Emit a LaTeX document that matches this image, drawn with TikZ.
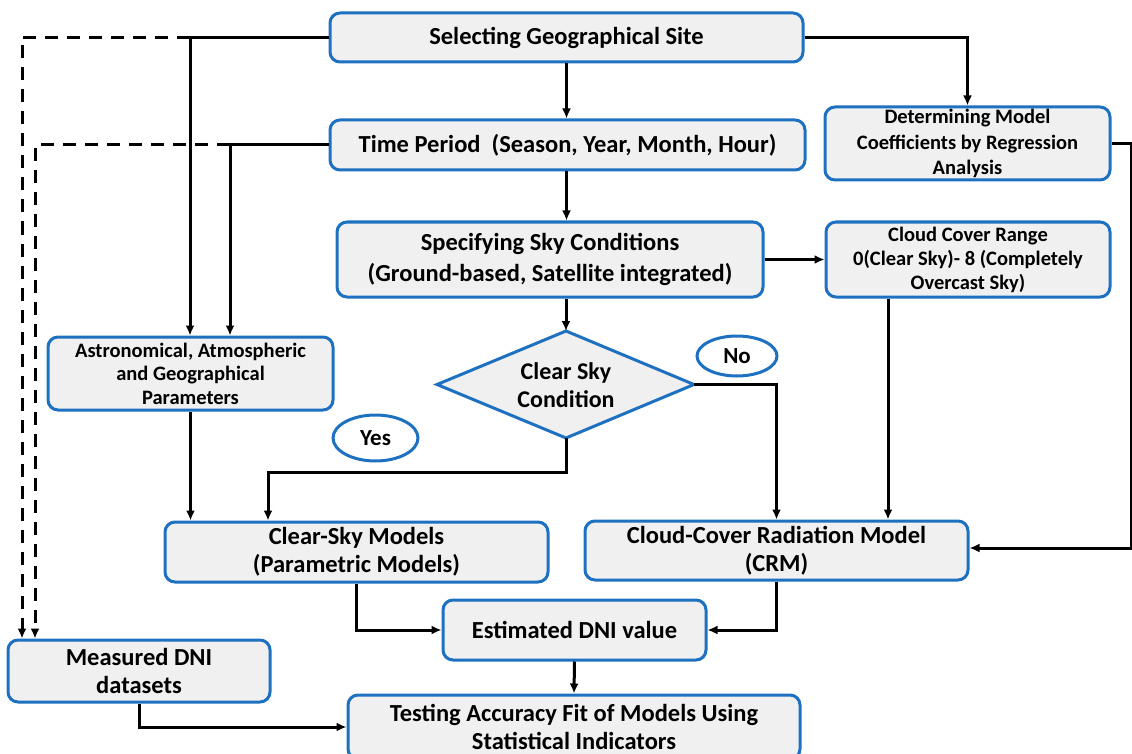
\documentclass[tikz,border=0pt]{standalone}
\usepackage{fontspec}
\setmainfont{Carlito}
\usetikzlibrary{arrows.meta,shapes.geometric}
\definecolor{bblue}{RGB}{30,112,192}
\definecolor{bfill}{RGB}{240,240,240}
\begin{document}
\begin{tikzpicture}[x=1pt,y=-1pt,
 box/.style={draw=bblue, fill=bfill, line width=3pt, rounded corners=10pt, align=center, inner sep=0pt},
 big/.style={font=\bfseries\fontsize{24.5}{28}\selectfont},
 bigw/.style={font=\bfseries\fontsize{24.5}{31}\selectfont},
 small/.style={font=\bfseries\fontsize{20.5}{24}\selectfont},
 lab/.style={draw=bblue, fill=white, ellipse, line width=3pt, font=\bfseries\fontsize{23}{26}\selectfont, inner sep=0pt},
 conn/.style={line width=3pt, -{Latex[length=10pt,width=9pt]}},
 dconn/.style={line width=3pt, dash pattern=on 13pt off 9pt, -{Latex[length=10pt,width=9pt]}},
 plain/.style={line width=3pt},
]
\useasboundingbox (0,0) rectangle (1132,754);
\clip (0,0) rectangle (1132,754);

% boxes
\node[box,big,minimum width=473pt,minimum height=49pt] (site) at (566.5,37.5) {Selecting Geographical Site};
\node[box,big,minimum width=475pt,minimum height=50pt] (time) at (567.5,145) {Time Period\ \ (Season, Year, Month, Hour)};
\node[box,small,minimum width=285pt,minimum height=73pt,font=\bfseries\fontsize{20.5}{25.5}\selectfont] (det) at (967.5,143.5) {Determining Model\\Coefficients by Regression\\Analysis};
\node[box,bigw,minimum width=426pt,minimum height=75pt] (spec) at (550,259.5) {Specifying Sky Conditions\\(Ground-based, Satellite integrated)};
\node[box,small,minimum width=284pt,minimum height=75pt] (cloud) at (968,259.5) {Cloud Cover Range\\0(Clear Sky)- 8 (Completely\\Overcast Sky)};
\node[box,small,minimum width=285pt,minimum height=73pt,font=\bfseries\fontsize{20.5}{23.5}\selectfont] (astro) at (190.5,373.5) {Astronomical, Atmospheric\\and Geographical\\Parameters};

% diamond
\coordinate (dT) at (566,331);
\coordinate (dR) at (694,384.5);
\coordinate (dB) at (566,438);
\coordinate (dL) at (437,384.5);
\draw[draw=bblue, fill=bfill, line width=3pt, line join=miter] (dT) -- (dR) -- (dB) -- (dL) -- cycle;
\node[big,align=center,font=\bfseries\fontsize{24}{28}\selectfont] (dia) at (566,385) {Clear Sky\\Condition};

\node[lab,minimum width=80pt,minimum height=40pt] (no) at (737,356) {No};
\node[lab,minimum width=85pt,minimum height=46pt] (yes) at (375.5,438) {Yes};

\node[box,big,minimum width=383pt,minimum height=60pt] (clear) at (356.5,552) {Clear-Sky Models\\(Parametric Models)};
\node[box,big,minimum width=383pt,minimum height=59pt] (crm) at (776.5,550.5) {Cloud-Cover Radiation Model\\(CRM)};
\node[box,big,minimum width=263pt,minimum height=60pt] (est) at (574.5,630) {Estimated DNI value};
\node[box,big,minimum width=262pt,minimum height=62pt] (meas) at (139,671) {Measured DNI\\datasets};
\node[box,big,minimum width=452pt,minimum height=64pt] (test) at (574,727) {Testing Accuracy Fit of Models Using\\Statistical Indicators};

% junction coordinates
\coordinate (j1) at (190,37.5);
\coordinate (d1) at (22,37.5);
\coordinate (j2) at (230,145);
\coordinate (d2) at (35,145);
\coordinate (y1) at (566,472);
\coordinate (y2) at (268,472);
\coordinate (r1) at (1131,143.5);
\coordinate (r2) at (1131,548);

% connectors
\draw[conn] (site.south) -- (site.south |- time.north);
\draw[conn] (site.east) -| (det.north);
\draw[plain] (site.west) -- (j1);
\draw[conn] (j1) -- (j1 |- astro.north);
\draw[dconn] (j1) -- (d1) -- (d1 |- meas.north);
\draw[plain] (time.west) -- (j2);
\draw[conn] (j2) -- (j2 |- astro.north);
\draw[dconn] (j2) -- (d2) -- (d2 |- meas.north);
\draw[conn] (time.south -| site.south) -- (spec.north -| site.south);
\draw[conn] (spec.east) -- (cloud.west);
\draw[conn] (spec.south -| dT) -- (dT);
\draw[conn] (dR) -| (crm.north);
\draw[conn] (dB) -- (y1) -- (y2) -- (y2 |- clear.north);
\draw[conn] (astro.south) -- (astro.south |- clear.north);
\draw[conn] (cloud.south -| 888,0) -- (crm.north -| 888,0);
\draw[conn] (det.east) -- (r1) -- (r2) -- (crm.east |- r2);
\draw[conn] (clear.south) |- (est.west);
\draw[conn] (crm.south) |- (est.east);
\draw[conn] (est.south) -- (test.north);
\draw[conn] (meas.south) |- (test.west);
\end{tikzpicture}
\end{document}
